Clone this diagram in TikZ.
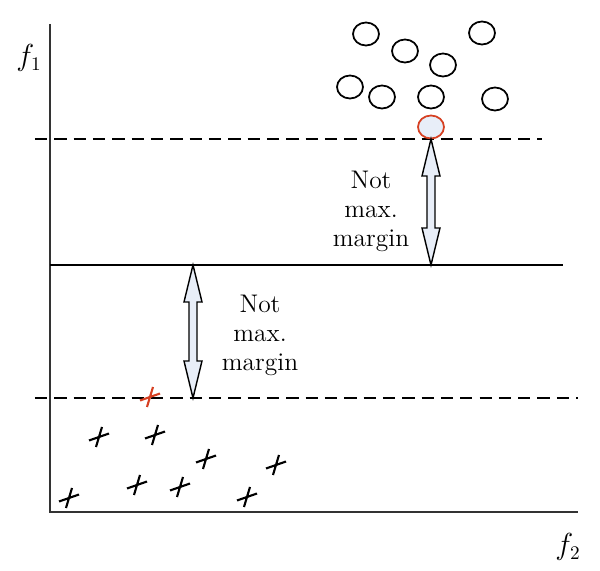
\documentclass[tikz,border=0pt]{standalone}
\usepackage{amsmath}
\usetikzlibrary{calc,shapes.geometric}
\definecolor{ptred}{RGB}{214,64,34}
\definecolor{arrfill}{RGB}{232,238,248}
\tikzset{
  axisln/.style={draw=black!80,line width=1.1pt},
  margln/.style={line width=0.8pt,dash pattern=on 7pt off 4pt},
  sepln/.style={line width=0.8pt},
  circpt/.style={ellipse,draw,line width=1pt,minimum width=0.52cm,minimum height=0.46cm,inner sep=0pt},
  suppcirc/.style={circpt,draw=ptred,fill=arrfill},
  xpt/.style={line width=1.2pt},
  margarr/.style={draw,line width=0.8pt,fill=arrfill,line join=miter},
  marglbl/.style={align=center,font=\fontsize{14.5}{16.5}\selectfont},
  axlbl/.style={font=\fontsize{16}{18}\selectfont}
}
% hollow double arrow between two named points
\newcommand{\margarrow}[2]{%
  \draw[margarr] (#1) -- ($(#1)+(9,37)$) -- ($(#1)+(4,37)$) -- ($(#2)+(4,-37)$)
    -- ($(#2)+(9,-37)$) -- (#2) -- ($(#2)+(-9,-37)$) -- ($(#2)+(-4,-37)$)
    -- ($(#1)+(-4,37)$) -- ($(#1)+(-9,37)$) -- cycle;}
% tilted cross marker
\newcommand{\crossmark}[2][black]{%
  \draw[xpt,#1] ($(#2)+(-10,3.5)$) -- ($(#2)+(10,-3.5)$)
    ($(#2)+(-3,10)$) -- ($(#2)+(3,-10)$);}

\begin{document}
\begin{tikzpicture}[x=0.02cm,y=-0.02cm]
  \useasboundingbox (0,0) rectangle (600,571);

  % axes
  \coordinate (origin) at (50,512);
  \coordinate (ytop) at (50,24);
  \coordinate (xend) at (578,512);
  \draw[axisln] (ytop) -- (origin) -- (xend);
  \node[axlbl] (f1) at (29,58) {$f_1$};
  \node[axlbl] (f2) at (568,547) {$f_2$};

  % boundary lines
  \coordinate (upL) at (35,139);  \coordinate (upR) at (542,139);
  \coordinate (midL) at (50,265); \coordinate (midR) at (563,265);
  \coordinate (loL) at (35,398);  \coordinate (loR) at (578,398);
  \draw[margln] (upL) -- (upR);
  \draw[sepln] (midL) -- (midR);
  \draw[margln] (loL) -- (loR);

  % circle class
  \foreach \px/\py [count=\i] in {366/34,405/51,443/65,482/33,350/87,382/97,431/97,495/99}
    \node[circpt] (c\i) at (\px,\py) {};
  \node[suppcirc] (csv) at (431,127) {};

  % cross class
  \foreach \px/\py [count=\i] in {99/437,155/435,206/459,276/465,69/498,137/485,180/487,247/497}{
    \coordinate (x\i) at (\px,\py);
    \crossmark{x\i}
  }
  \coordinate (xsv) at (150,397);
  \crossmark[ptred]{xsv}

  % margins
  \coordinate (aRt) at (431,139); \coordinate (aRb) at (431,265);
  \coordinate (aLt) at (193,265); \coordinate (aLb) at (193,398);
  \margarrow{aRt}{aRb}
  \margarrow{aLt}{aLb}
  \node[marglbl] (lblR) at (371,211) {Not\\max.\\margin};
  \node[marglbl] (lblL) at (260,335) {Not\\max.\\margin};
\end{tikzpicture}
\end{document}
